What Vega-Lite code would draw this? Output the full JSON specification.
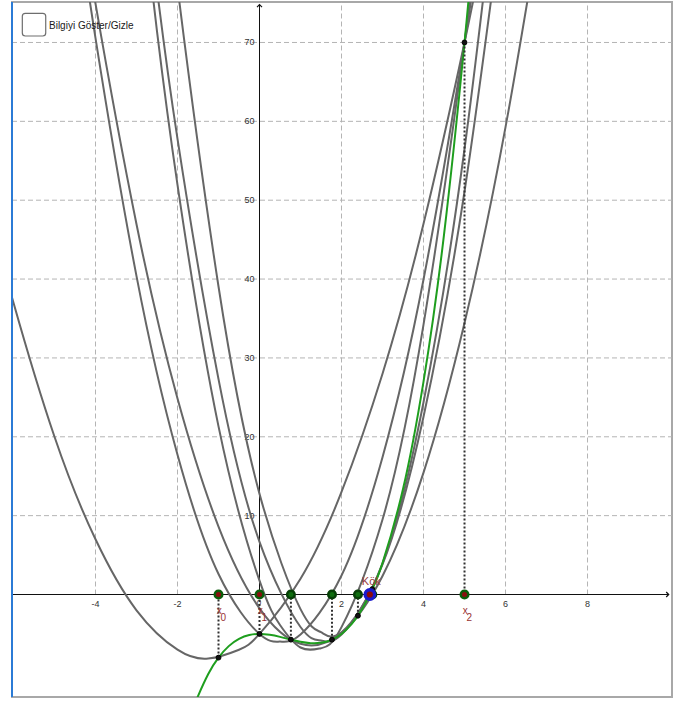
{
  "$schema": "https://vega.github.io/schema/vega-lite/v6.json",
  "width": 660,
  "height": 695,
  "autosize": {"type": "none"},
  "padding": {"left": 12, "top": 2, "right": 10, "bottom": 5},
  "background": "white",
  "config": {"view": {"stroke": "#a8a8a8", "strokeWidth": 2}, "font": "Liberation Sans"},
  "datasets": {
    "fcurve": [
      {"x": -1.75, "y": -16.484}, {"x": -1.6, "y": -14.216}, {"x": -1.5, "y": -12.875}, {"x": -1.25, "y": -10.078},
      {"x": -1, "y": -8}, {"x": -0.75, "y": -6.547}, {"x": -0.5, "y": -5.625}, {"x": -0.25, "y": -5.141},
      {"x": 0, "y": -5}, {"x": 0.25, "y": -5.109}, {"x": 0.5, "y": -5.375}, {"x": 0.75, "y": -5.703},
      {"x": 1, "y": -6}, {"x": 1.25, "y": -6.172}, {"x": 1.5, "y": -6.125}, {"x": 1.75, "y": -5.766},
      {"x": 2, "y": -5}, {"x": 2.25, "y": -3.734}, {"x": 2.5, "y": -1.875}, {"x": 2.75, "y": 0.672},
      {"x": 3, "y": 4}, {"x": 3.5, "y": 13.375}, {"x": 4, "y": 27}, {"x": 4.5, "y": 45.625},
      {"x": 5, "y": 70}, {"x": 5.25, "y": 84.578}, {"x": 5.5, "y": 100.875}
    ],
    "par": [
      {"k": 1, "x": -7, "y": 58}, {"k": 1, "x": -6.5, "y": 47}, {"k": 1, "x": -6, "y": 37}, {"k": 1, "x": -5, "y": 20},
      {"k": 1, "x": -4, "y": 7}, {"k": 1, "x": -3, "y": -2}, {"k": 1, "x": -2, "y": -7}, {"k": 1, "x": -1.25, "y": -8.125},
      {"k": 1, "x": -0.5, "y": -7}, {"k": 1, "x": 0, "y": -5}, {"k": 1, "x": 1, "y": 2}, {"k": 1, "x": 2, "y": 13},
      {"k": 1, "x": 3, "y": 28}, {"k": 1, "x": 4, "y": 47}, {"k": 1, "x": 5, "y": 70}, {"k": 1, "x": 5.5, "y": 83}, {"k": 1, "x": 6, "y": 97},
      {"k": 2, "x": -5, "y": 108.278}, {"k": 2, "x": -4.5, "y": 88.478}, {"k": 2, "x": -4, "y": 70.56}, {"k": 2, "x": -3, "y": 40.374},
      {"k": 2, "x": -2, "y": 17.718}, {"k": 2, "x": -1, "y": 2.594}, {"k": 2, "x": 0, "y": -5}, {"k": 2, "x": 0.5, "y": -5.973},
      {"k": 2, "x": 1, "y": -5.062}, {"k": 2, "x": 2, "y": 2.406}, {"k": 2, "x": 3, "y": 17.406}, {"k": 2, "x": 4, "y": 39.938},
      {"k": 2, "x": 5, "y": 70}, {"k": 2, "x": 5.5, "y": 87.855}, {"k": 2, "x": 6, "y": 107.594},
      {"k": 3, "x": -3.5, "y": 118.616}, {"k": 3, "x": -3, "y": 93.623}, {"k": 3, "x": -2.5, "y": 71.398}, {"k": 3, "x": -2, "y": 51.938},
      {"k": 3, "x": -1, "y": 21.319}, {"k": 3, "x": 0, "y": 1.766}, {"k": 3, "x": 0.5, "y": -3.861}, {"k": 3, "x": 1, "y": -6.72},
      {"k": 3, "x": 1.5, "y": -6.813}, {"k": 3, "x": 2, "y": -4.14}, {"k": 3, "x": 3, "y": 9.507}, {"k": 3, "x": 4, "y": 34.22},
      {"k": 3, "x": 5, "y": 70}, {"k": 3, "x": 5.5, "y": 92.04}, {"k": 3, "x": 6, "y": 116.846},
      {"k": 4, "x": -5, "y": 108.767}, {"k": 4, "x": -4.5, "y": 91.114}, {"k": 4, "x": -4, "y": 74.928}, {"k": 4, "x": -3, "y": 46.957},
      {"k": 4, "x": -2, "y": 24.853}, {"k": 4, "x": -1, "y": 8.617}, {"k": 4, "x": 0, "y": -1.751}, {"k": 4, "x": 1, "y": -6.251},
      {"k": 4, "x": 2, "y": -4.885}, {"k": 4, "x": 3, "y": 2.351}, {"k": 4, "x": 4, "y": 15.452}, {"k": 4, "x": 5, "y": 34.423},
      {"k": 4, "x": 6, "y": 59.26}, {"k": 4, "x": 7, "y": 89.966},
      {"k": 5, "x": -3.5, "y": 121.933}, {"k": 5, "x": -3, "y": 98.088}, {"k": 5, "x": -2.5, "y": 76.704}, {"k": 5, "x": -2, "y": 57.778},
      {"k": 5, "x": -1, "y": 27.307}, {"k": 5, "x": 0, "y": 6.676}, {"k": 5, "x": 1, "y": -4.117}, {"k": 5, "x": 1.5, "y": -5.823},
      {"k": 5, "x": 2, "y": -5.07}, {"k": 5, "x": 3, "y": 3.816}, {"k": 5, "x": 4, "y": 22.541}, {"k": 5, "x": 5, "y": 51.106},
      {"k": 5, "x": 6, "y": 89.51},
      {"k": 6, "x": -3, "y": 126.704}, {"k": 6, "x": -2.5, "y": 100.413}, {"k": 6, "x": -2, "y": 77.042}, {"k": 6, "x": -1, "y": 39.06},
      {"k": 6, "x": 0, "y": 12.761}, {"k": 6, "x": 1, "y": -1.857}, {"k": 6, "x": 1.5, "y": -4.785}, {"k": 6, "x": 2, "y": -4.792},
      {"k": 6, "x": 3, "y": 3.954}, {"k": 6, "x": 4, "y": 24.382}, {"k": 6, "x": 5, "y": 56.492}, {"k": 6, "x": 6, "y": 100.283}
    ],
    "iter": [
      {"n": "0", "x": -1, "fx": -8, "kind": "start"},
      {"n": "1", "x": 0, "fx": -5, "kind": "start"},
      {"n": "2", "x": 5, "fx": 70, "kind": "start"},
      {"n": "3", "x": 0.76556, "fx": -5.72349, "kind": "new"},
      {"n": "4", "x": 1.7677, "fx": -5.72581, "kind": "new"},
      {"n": "5", "x": 2.40072, "fx": -2.69047, "kind": "new"},
      {"n": "6", "x": 2.75103, "fx": 0.68392, "kind": "new"},
      {"n": "7", "x": 2.68915, "fx": -0.01639, "kind": "new"}
    ],
    "kokpt": [{"x": 2.6906474, "name": "Kök"}],
    "gridx": [{"x": -4}, {"x": -2}, {"x": 2}, {"x": 4}, {"x": 6}, {"x": 8}],
    "gridy": [{"y": 10}, {"y": 20}, {"y": 30}, {"y": 40}, {"y": 50}, {"y": 60}, {"y": 70}],
    "xlab": [{"x": -4, "t": "-4"}, {"x": -2, "t": "-2"}, {"x": 2, "t": "2"}, {"x": 4, "t": "4"}, {"x": 6, "t": "6"}, {"x": 8, "t": "8"}],
    "olab": [{"x": 0, "t": "0"}],
    "ylab": [{"y": 10, "t": "10"}, {"y": 20, "t": "20"}, {"y": 30, "t": "30"}, {"y": 40, "t": "40"}, {"y": 50, "t": "50"}, {"y": 60, "t": "60"}, {"y": 70, "t": "70"}],
    "ui": [{"label": "Bilgiyi Göster/Gizle"}]
  },
  "layer": [
    {
      "data": {"name": "gridx"},
      "mark": {"type": "rule", "stroke": "#b4b4b4", "strokeWidth": 1, "strokeDash": [5, 3], "clip": true},
      "encoding": {
        "x": {"field": "x", "type": "quantitative", "scale": {"domain": [-6.0366, 10.0604], "nice": false, "zero": false}, "axis": null},
        "y": {"datum": 0, "type": "quantitative", "scale": {"domain": [-12.997, 75.133], "nice": false, "zero": false}, "axis": null},
        "y2": {"datum": 76}
      }
    },
    {
      "data": {"name": "gridy"},
      "mark": {"type": "rule", "stroke": "#b4b4b4", "strokeWidth": 1, "strokeDash": [5, 3], "clip": true},
      "encoding": {
        "y": {"field": "y", "type": "quantitative", "scale": {"domain": [-12.997, 75.133], "nice": false, "zero": false}, "axis": null},
        "x": {"datum": -6.0366, "type": "quantitative", "scale": {"domain": [-6.0366, 10.0604], "nice": false, "zero": false}, "axis": null},
        "x2": {"datum": 10.0604}
      }
    },
    {
      "data": {"name": "xlab"},
      "mark": {"type": "text", "font": "Liberation Sans", "fontSize": 9, "color": "#333333", "align": "center", "baseline": "middle", "dy": 9},
      "encoding": {
        "x": {"field": "x", "type": "quantitative", "scale": {"domain": [-6.0366, 10.0604], "nice": false, "zero": false}, "axis": null},
        "y": {"datum": 0, "type": "quantitative", "scale": {"domain": [-12.997, 75.133], "nice": false, "zero": false}, "axis": null},
        "text": {"field": "t"}
      }
    },
    {
      "data": {"name": "olab"},
      "mark": {"type": "text", "font": "Liberation Sans", "fontSize": 8, "color": "#333333", "align": "center", "baseline": "middle", "dx": -0.5, "dy": 8},
      "encoding": {
        "x": {"field": "x", "type": "quantitative", "scale": {"domain": [-6.0366, 10.0604], "nice": false, "zero": false}, "axis": null},
        "y": {"datum": 0, "type": "quantitative", "scale": {"domain": [-12.997, 75.133], "nice": false, "zero": false}, "axis": null},
        "text": {"field": "t"}
      }
    },
    {
      "data": {"name": "ylab"},
      "mark": {"type": "text", "font": "Liberation Sans", "fontSize": 9, "color": "#333333", "align": "right", "baseline": "middle", "dx": -5},
      "encoding": {
        "y": {"field": "y", "type": "quantitative", "scale": {"domain": [-12.997, 75.133], "nice": false, "zero": false}, "axis": null},
        "x": {"datum": 0, "type": "quantitative", "scale": {"domain": [-6.0366, 10.0604], "nice": false, "zero": false}, "axis": null},
        "text": {"field": "t"}
      }
    },
    {
      "data": {"values": [{}]},
      "mark": {"type": "rule", "stroke": "#111111", "strokeWidth": 1},
      "encoding": {
        "y": {"datum": 0, "type": "quantitative", "scale": {"domain": [-12.997, 75.133], "nice": false, "zero": false}, "axis": null},
        "x": {"datum": -6.0366, "type": "quantitative", "scale": {"domain": [-6.0366, 10.0604], "nice": false, "zero": false}, "axis": null},
        "x2": {"datum": 9.98}
      }
    },
    {
      "data": {"values": [{}]},
      "mark": {"type": "rule", "stroke": "#111111", "strokeWidth": 1},
      "encoding": {
        "x": {"datum": 0, "type": "quantitative", "scale": {"domain": [-6.0366, 10.0604], "nice": false, "zero": false}, "axis": null},
        "y": {"datum": 0, "type": "quantitative", "scale": {"domain": [-12.997, 75.133], "nice": false, "zero": false}, "axis": null},
        "y2": {"datum": 74.8}
      }
    },
    {
      "data": {"name": "par"},
      "mark": {"type": "line", "stroke": "#666666", "strokeWidth": 2, "interpolate": "natural", "clip": true},
      "encoding": {
        "detail": {"field": "k", "type": "nominal"},
        "x": {"field": "x", "type": "quantitative", "scale": {"domain": [-6.0366, 10.0604], "nice": false, "zero": false}, "axis": null},
        "y": {"field": "y", "type": "quantitative", "scale": {"domain": [-12.997, 75.133], "nice": false, "zero": false}, "axis": null}
      }
    },
    {
      "data": {"name": "fcurve"},
      "mark": {"type": "line", "stroke": "#1e9e1e", "strokeWidth": 2, "interpolate": "natural", "clip": true},
      "encoding": {
        "x": {"field": "x", "type": "quantitative", "scale": {"domain": [-6.0366, 10.0604], "nice": false, "zero": false}, "axis": null},
        "y": {"field": "y", "type": "quantitative", "scale": {"domain": [-12.997, 75.133], "nice": false, "zero": false}, "axis": null}
      }
    },
    {
      "data": {"name": "iter"},
      "mark": {"type": "rule", "stroke": "#303030", "strokeWidth": 2, "strokeDash": [2, 2], "clip": true},
      "encoding": {
        "x": {"field": "x", "type": "quantitative", "scale": {"domain": [-6.0366, 10.0604], "nice": false, "zero": false}, "axis": null},
        "y": {"field": "fx", "type": "quantitative", "scale": {"domain": [-12.997, 75.133], "nice": false, "zero": false}, "axis": null},
        "y2": {"datum": 0}
      }
    },
    {
      "data": {"name": "iter"},
      "mark": {"type": "point", "shape": "circle", "filled": true, "fill": "#111111", "stroke": "#000000", "strokeWidth": 1, "size": 24, "opacity": 1},
      "encoding": {
        "x": {"field": "x", "type": "quantitative", "scale": {"domain": [-6.0366, 10.0604], "nice": false, "zero": false}, "axis": null},
        "y": {"field": "fx", "type": "quantitative", "scale": {"domain": [-12.997, 75.133], "nice": false, "zero": false}, "axis": null}
      }
    },
    {
      "data": {"name": "iter"},
      "mark": {"type": "point", "shape": "circle", "filled": true, "strokeWidth": 2.5, "size": 57, "opacity": 1},
      "encoding": {
        "x": {"field": "x", "type": "quantitative", "scale": {"domain": [-6.0366, 10.0604], "nice": false, "zero": false}, "axis": null},
        "y": {"datum": 0, "type": "quantitative", "scale": {"domain": [-12.997, 75.133], "nice": false, "zero": false}, "axis": null},
        "fill": {"field": "kind", "type": "nominal", "scale": {"domain": ["start", "new"], "range": ["#8a0f0f", "#0f6e0f"]}, "legend": null},
        "stroke": {"field": "kind", "type": "nominal", "scale": {"domain": ["start", "new"], "range": ["#0b5d0b", "#063f06"]}, "legend": null}
      }
    },
    {
      "data": {"name": "kokpt"},
      "mark": {"type": "point", "shape": "circle", "filled": true, "fill": "#8b0a0a", "stroke": "#1a1acc", "strokeWidth": 3.3, "size": 90, "opacity": 1},
      "encoding": {
        "x": {"field": "x", "type": "quantitative", "scale": {"domain": [-6.0366, 10.0604], "nice": false, "zero": false}, "axis": null},
        "y": {"datum": 0, "type": "quantitative", "scale": {"domain": [-12.997, 75.133], "nice": false, "zero": false}, "axis": null}
      }
    },
    {
      "data": {"name": "kokpt"},
      "mark": {"type": "text", "font": "Liberation Sans", "fontSize": 11, "color": "#9c3c3c", "align": "center", "baseline": "middle", "dx": 1.5, "dy": -13},
      "encoding": {
        "x": {"field": "x", "type": "quantitative", "scale": {"domain": [-6.0366, 10.0604], "nice": false, "zero": false}, "axis": null},
        "y": {"datum": 0, "type": "quantitative", "scale": {"domain": [-12.997, 75.133], "nice": false, "zero": false}, "axis": null},
        "text": {"field": "name"}
      }
    },
    {
      "data": {"name": "iter"},
      "transform": [{"filter": "datum.kind == 'start'"}],
      "mark": {"type": "text", "font": "Liberation Sans", "fontSize": 10, "color": "#993333", "align": "center", "baseline": "middle", "dx": 0.8, "dy": 16.5, "text": "x"},
      "encoding": {
        "x": {"field": "x", "type": "quantitative", "scale": {"domain": [-6.0366, 10.0604], "nice": false, "zero": false}, "axis": null},
        "y": {"datum": 0, "type": "quantitative", "scale": {"domain": [-12.997, 75.133], "nice": false, "zero": false}, "axis": null}
      }
    },
    {
      "data": {"name": "iter"},
      "transform": [{"filter": "datum.kind == 'start'"}],
      "mark": {"type": "text", "font": "Liberation Sans", "fontSize": 10, "color": "#993333", "align": "center", "baseline": "middle", "dx": 4.8, "dy": 23},
      "encoding": {
        "x": {"field": "x", "type": "quantitative", "scale": {"domain": [-6.0366, 10.0604], "nice": false, "zero": false}, "axis": null},
        "y": {"datum": 0, "type": "quantitative", "scale": {"domain": [-12.997, 75.133], "nice": false, "zero": false}, "axis": null},
        "text": {"field": "n"}
      }
    },
    {
      "data": {"values": [{}]},
      "mark": {"type": "point", "shape": "M-1,-1L0,0L-1,1", "filled": false, "stroke": "#111111", "strokeWidth": 1.2, "size": 25, "opacity": 1},
      "encoding": {
        "x": {"datum": 9.98, "type": "quantitative", "scale": {"domain": [-6.0366, 10.0604], "nice": false, "zero": false}, "axis": null},
        "y": {"datum": 0, "type": "quantitative", "scale": {"domain": [-12.997, 75.133], "nice": false, "zero": false}, "axis": null}
      }
    },
    {
      "data": {"values": [{}]},
      "mark": {"type": "point", "shape": "M-1,1L0,0L1,1", "filled": false, "stroke": "#111111", "strokeWidth": 1.2, "size": 25, "opacity": 1},
      "encoding": {
        "x": {"datum": 0, "type": "quantitative", "scale": {"domain": [-6.0366, 10.0604], "nice": false, "zero": false}, "axis": null},
        "y": {"datum": 74.8, "type": "quantitative", "scale": {"domain": [-12.997, 75.133], "nice": false, "zero": false}, "axis": null}
      }
    },
    {
      "data": {"values": [{}]},
      "mark": {"type": "rule", "stroke": "#2b7bd6", "strokeWidth": 2, "clip": false},
      "encoding": {
        "x": {"datum": -6.0366, "type": "quantitative", "scale": {"domain": [-6.0366, 10.0604], "nice": false, "zero": false}, "axis": null},
        "y": {"datum": -12.997, "type": "quantitative", "scale": {"domain": [-12.997, 75.133], "nice": false, "zero": false}, "axis": null},
        "y2": {"datum": 75.133}
      }
    },
    {
      "data": {"values": [{}]},
      "mark": {"type": "rect", "fill": "white", "stroke": "#6e6e6e", "strokeWidth": 1.2, "cornerRadius": 3},
      "encoding": {
        "x": {"datum": -5.785, "type": "quantitative", "scale": {"domain": [-6.0366, 10.0604], "nice": false, "zero": false}, "axis": null},
        "x2": {"datum": -5.214},
        "y": {"datum": 73.70, "type": "quantitative", "scale": {"domain": [-12.997, 75.133], "nice": false, "zero": false}, "axis": null},
        "y2": {"datum": 70.82}
      }
    },
    {
      "data": {"name": "ui"},
      "mark": {"type": "text", "font": "Liberation Sans", "fontSize": 10, "color": "#1a1a1a", "align": "left", "baseline": "middle"},
      "encoding": {
        "x": {"datum": -5.134, "type": "quantitative", "scale": {"domain": [-6.0366, 10.0604], "nice": false, "zero": false}, "axis": null},
        "y": {"datum": 72.09, "type": "quantitative", "scale": {"domain": [-12.997, 75.133], "nice": false, "zero": false}, "axis": null},
        "text": {"field": "label"}
      }
    }
  ]
}
